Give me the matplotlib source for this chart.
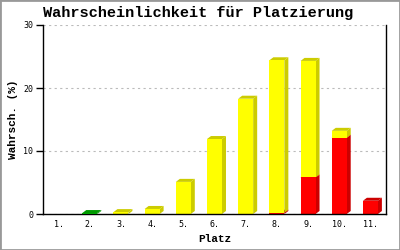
import numpy as np
import matplotlib.pyplot as plt
from matplotlib.patches import Polygon, Rectangle

places = ['1.', '2.', '3.', '4.', '5.', '6.', '7.', '8.', '9.', '10.', '11.']
red_vals = [0, 0, 0, 0, 0, 0, 0, 0.2, 5.8, 12.1, 2.1]
green_vals = [0, 0.15, 0, 0, 0, 0, 0, 0, 0, 0, 0]
yellow_vals = [0, 0, 0.3, 0.8, 5.1, 11.9, 18.3, 24.2, 18.5, 1.1, 0]

series = [(red_vals, '#ff0000', '#cc0000'),
          (green_vals, '#00cc00', '#009900'),
          (yellow_vals, '#ffff00', '#cccc00')]

fig = plt.figure(figsize=(4, 2.5), dpi=100)
ax = fig.add_axes([43 / 400, 36 / 250, 343 / 400, 189 / 250])

x = np.arange(1, len(places) + 1)
width = 0.48
# depth of the 3d look in data units (about 4px right, 3px up)
dx = 4 / 31.2
dy = 3 / 6.3

bottom = np.zeros(len(places))
for vals, face, dark in series:
    vals = np.array(vals, dtype=float)
    for xi, b, h in zip(x, bottom, vals):
        if h <= 0:
            continue
        l, r, t = xi - width / 2, xi + width / 2, b + h
        ax.add_patch(Polygon([(r, b), (r + dx, b + dy), (r + dx, t + dy), (r, t)],
                             closed=True, facecolor=dark, edgecolor='none', zorder=3))
        ax.add_patch(Polygon([(l, t), (l + dx, t + dy), (r + dx, t + dy), (r, t)],
                             closed=True, facecolor=dark, edgecolor='none', zorder=3))
    ax.bar(x, vals, width, bottom=bottom, color=face, edgecolor='none', zorder=4)
    bottom = bottom + vals

ax.set_xlim(0.5, len(places) + 0.5)
ax.set_ylim(0, 30)
ax.set_yticks([0, 10, 20, 30])
ax.set_xticks(x)
ax.set_xticklabels(places, family='DejaVu Sans Mono', fontsize=6)
for lab in ax.get_yticklabels():
    lab.set_family('DejaVu Sans Mono')
    lab.set_fontsize(6)
ax.tick_params(axis='x', length=0, pad=4)
ax.tick_params(axis='y', length=5, width=1, direction='out', pad=2)
ax.yaxis.grid(True, linestyle=(0, (2, 3)), color='#bbbbbb', linewidth=0.8, zorder=0)
ax.spines['top'].set_visible(False)
for s in ['left', 'bottom', 'right']:
    ax.spines[s].set_linewidth(1)
    ax.spines[s].set_zorder(6)

fig.text(0.495, 0.948, 'Wahrscheinlichkeit für Platzierung', family='Liberation Mono',
         fontweight='bold', fontsize=11, ha='center', va='center')
ax.set_xlabel('Platz', family='Liberation Mono', fontweight='bold', fontsize=8, labelpad=4)
ax.set_ylabel('Wahrsch. (%)', family='Liberation Mono', fontweight='bold', fontsize=8, labelpad=4)

fig.patches.append(Rectangle((0, 0), 1, 1, transform=fig.transFigure, fill=False,
                             edgecolor='#999999', linewidth=2))

fig.savefig('out.png', dpi=100)
